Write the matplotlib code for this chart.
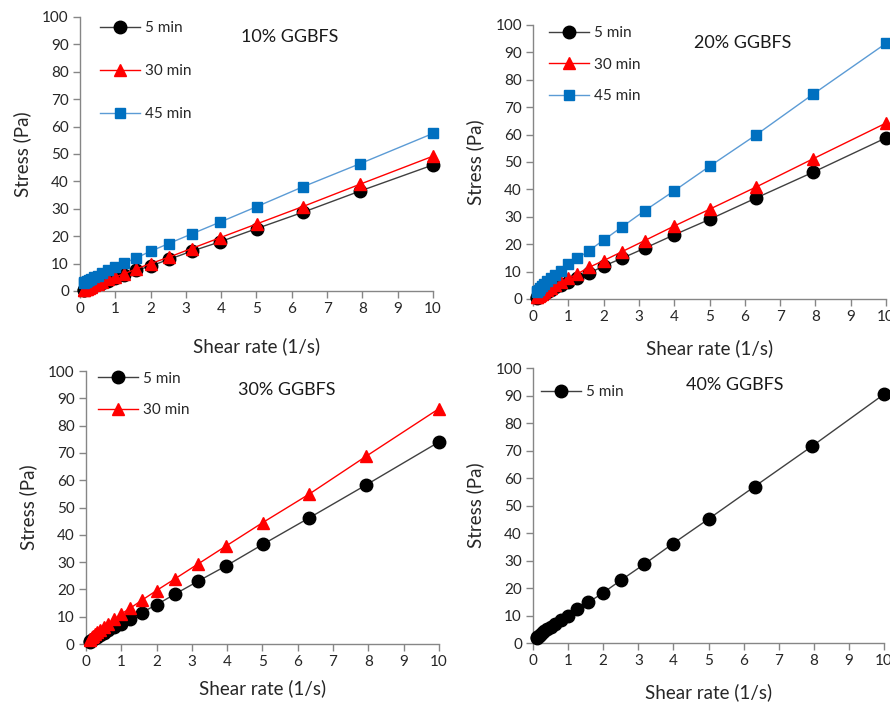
import matplotlib
matplotlib.use("Agg")
from matplotlib import pyplot as plt

plt.rcParams['font.family'] = ['Lato', 'DejaVu Sans']

# shear rate steps (1/s), same for every test
rate = [0.1, 0.126, 0.158, 0.2, 0.251, 0.316, 0.398, 0.5, 0.631, 0.794,
        1.0, 1.26, 1.58, 2.0, 2.51, 3.16, 3.98, 5.01, 6.31, 7.94, 10.0]

# stress (Pa)
g10_5 = [0.3, 0.5, 0.7, 0.9, 1.2, 1.5, 1.9, 2.4, 3.0, 3.8,
         4.8, 6.0, 7.5, 9.1, 11.5, 14.5, 18.0, 22.8, 28.7, 36.5, 46.0]
g10_30 = [0.3, 0.4, 0.6, 0.9, 1.2, 1.6, 2.1, 2.7, 3.4, 4.2,
          5.2, 6.3, 8.0, 10.0, 12.3, 15.5, 19.5, 24.5, 30.8, 39.0, 49.2]
g10_45 = [3.0, 3.2, 3.4, 3.7, 4.0, 4.5, 5.0, 5.6, 6.5, 7.6,
          8.6, 10.2, 12.0, 14.5, 17.3, 20.8, 25.2, 30.8, 38.0, 46.5, 57.5]

g20_5 = [0.5, 0.7, 0.9, 1.2, 1.6, 2.0, 2.6, 3.3, 4.2, 5.2,
         6.3, 7.6, 9.4, 12.0, 14.8, 18.5, 23.3, 29.1, 36.8, 46.3, 58.8]
g20_30 = [0.6, 0.8, 1.1, 1.5, 1.9, 2.5, 3.2, 4.0, 5.0, 6.2,
          7.5, 9.2, 11.5, 14.0, 17.2, 21.3, 26.5, 32.8, 40.8, 51.2, 64.2]
g20_45 = [2.4, 2.9, 3.4, 4.0, 4.7, 5.5, 6.4, 7.5, 8.8, 10.3,
          12.6, 14.8, 17.6, 21.5, 26.2, 32.2, 39.3, 48.5, 59.8, 74.8, 93.3]

g30_5 = [0.9, 1.1, 1.4, 1.7, 2.1, 2.6, 3.2, 4.0, 5.0, 6.2,
         7.5, 9.3, 11.5, 14.4, 18.2, 22.9, 28.7, 36.5, 46.1, 58.3, 74.0]
g30_30 = [1.6, 2.0, 2.4, 2.9, 3.5, 4.3, 5.1, 6.2, 7.5, 9.0,
          11.0, 13.2, 16.0, 19.6, 23.8, 29.2, 36.0, 44.5, 54.8, 68.8, 86.2]

g40_5 = [1.9, 2.2, 2.6, 3.0, 3.6, 4.2, 5.0, 5.9, 7.0, 8.4,
         10.0, 12.2, 14.8, 18.3, 22.9, 28.6, 36.1, 45.2, 56.9, 71.5, 90.5]

xticks = list(range(0, 11))
yticks = list(range(0, 101, 10))

BLACK_LINE = '#404040'
RED = '#ff0000'
BLUE_M = '#0070c0'
BLUE_L = '#5b9bd5'

styles = {
    '5 min': dict(marker='o', color=BLACK_LINE, mfc='black', mec='black', ms=9),
    '30 min': dict(marker='^', color=RED, mfc=RED, mec=RED, ms=8.5),
    '45 min': dict(marker='s', color=BLUE_L, mfc=BLUE_M, mec=BLUE_M, ms=7.5),
}

panels = [
    # (rect, title, title pos, series, legend anchor, labelspacing, xlabel pad)
    ([0.0899, 0.5855, 0.3966, 0.3903], '10% GGBFS', (0.595, 0.927),
     [('5 min', g10_5), ('30 min', g10_30), ('45 min', g10_45)], (0.057, 0.985), 1.9, 15),
    ([0.5989, 0.5741, 0.3966, 0.3903], '20% GGBFS', (0.595, 0.934),
     [('5 min', g20_5), ('30 min', g20_30), ('45 min', g20_45)], (0.045, 0.995), 1.14, 11),
    ([0.0966, 0.0826, 0.3966, 0.3889], '30% GGBFS', (0.57, 0.93),
     [('5 min', g30_5), ('30 min', g30_30)], (0.034, 0.998), 1.16, 7),
    ([0.5989, 0.0840, 0.3944, 0.3917], '40% GGBFS', (0.576, 0.938),
     [('5 min', g40_5)], (0.023, 0.938), 1.0, 11),
]

fig = plt.figure(figsize=(8.9, 7.02), dpi=100)

for rect, title, tpos, series, lpos, lsp, xpad in panels:
    ax = fig.add_axes(rect)
    for name, vals in series:
        ax.plot(rate, vals, lw=1.0, label=name, clip_on=False, zorder=3, **styles[name])
    ax.set_xlim(0, 10)
    ax.set_ylim(0, 100)
    ax.set_xticks(xticks)
    ax.set_yticks(yticks)
    ax.spines['right'].set_visible(False)
    ax.spines['top'].set_visible(False)
    for s in ('left', 'bottom'):
        ax.spines[s].set_color('#868686')
        ax.spines[s].set_linewidth(1.0)
    ax.tick_params(direction='out', length=5, width=1.0, color='#868686',
                   labelsize=11, labelcolor='#262626', pad=3)
    ax.set_xlabel('Shear rate (1/s)', fontsize=13.5, color='#262626', labelpad=xpad)
    ax.set_ylabel('Stress (Pa)', fontsize=13.5, color='#262626', labelpad=8)
    ax.text(tpos[0], tpos[1], title, transform=ax.transAxes, ha='center', va='center',
            fontsize=13, color='#1a1a1a')
    ax.legend(loc='upper left', bbox_to_anchor=lpos, frameon=False, fontsize=11,
              borderpad=0, borderaxespad=0, handlelength=2.6, handletextpad=0.35,
              labelspacing=lsp, labelcolor='#262626')

fig.savefig('out.png', dpi=100)
